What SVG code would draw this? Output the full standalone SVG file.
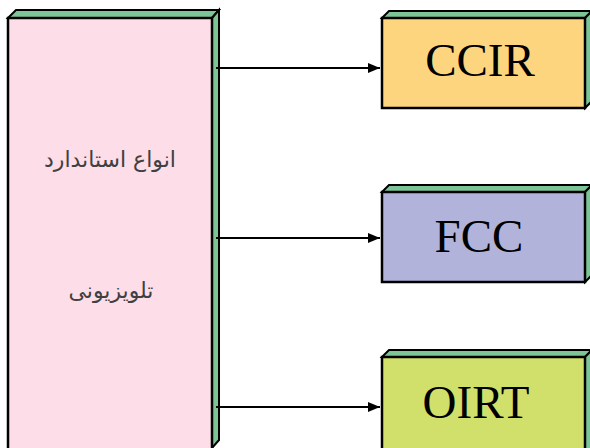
<svg xmlns="http://www.w3.org/2000/svg" width="590" height="448" viewBox="0 0 590 448">
<style>
.edge{stroke:#000;stroke-width:2;fill:none}
.bx{stroke:#000;stroke-width:2.5;stroke-linejoin:miter}
.side{fill:#7DC597;stroke:#000;stroke-width:2}
.lbl{font-family:"Liberation Serif",serif;font-size:47px;fill:#000;text-anchor:middle}
.fa{font-family:"DejaVu Sans",sans-serif;font-size:22px;fill:#404040;text-anchor:middle}
</style>
<defs>
<marker id="ah" viewBox="0 0 12 10" refX="12" refY="5" markerWidth="12" markerHeight="10" markerUnits="userSpaceOnUse" orient="auto"><path d="M0,0 L12,5 L0,10 z" fill="#000"/></marker>
</defs>
<rect width="590" height="448" fill="#fff"/>
<g id="node-main">
<polygon class="side" points="8,18 16,10 219,10 212,18"/>
<polygon class="side" points="212,18 219,10 219,440 212,448"/>
<rect class="bx" x="8" y="18" width="204" height="432" fill="#FCDDE8"/>
<text class="fa" x="110" y="167" direction="rtl">انواع استاندارد</text>
<text class="fa" x="111" y="298" direction="rtl">تلویزیونی</text>
</g>
<g id="node-ccir">
<polygon class="side" points="382,18 389,11 592,11 585,18"/>
<polygon class="side" points="585,18 592,11 592,101 585,108"/>
<rect class="bx" x="382" y="18" width="203" height="90" fill="#FDD57E"/>
<text class="lbl" x="480" y="76">CCIR</text>
</g>
<g id="node-fcc">
<polygon class="side" points="382,192 389,185 592,185 585,192"/>
<polygon class="side" points="585,192 592,185 592,275 585,282"/>
<rect class="bx" x="382" y="192" width="203" height="90" fill="#B1B3DB"/>
<text class="lbl" x="479" y="252">FCC</text>
</g>
<g id="node-oirt">
<polygon class="side" points="382,357 389,350 592,350 585,357"/>
<polygon class="side" points="585,357 592,350 592,450 585,457"/>
<rect class="bx" x="382" y="357" width="203" height="100" fill="#D1DF6B"/>
<text class="lbl" x="476" y="418">OIRT</text>
</g>
<g id="connectors">
<line class="edge" x1="216" y1="68" x2="380" y2="68" marker-end="url(#ah)"/>
<line class="edge" x1="216" y1="238" x2="380" y2="238" marker-end="url(#ah)"/>
<line class="edge" x1="216" y1="407" x2="380" y2="407" marker-end="url(#ah)"/>
</g>
</svg>
